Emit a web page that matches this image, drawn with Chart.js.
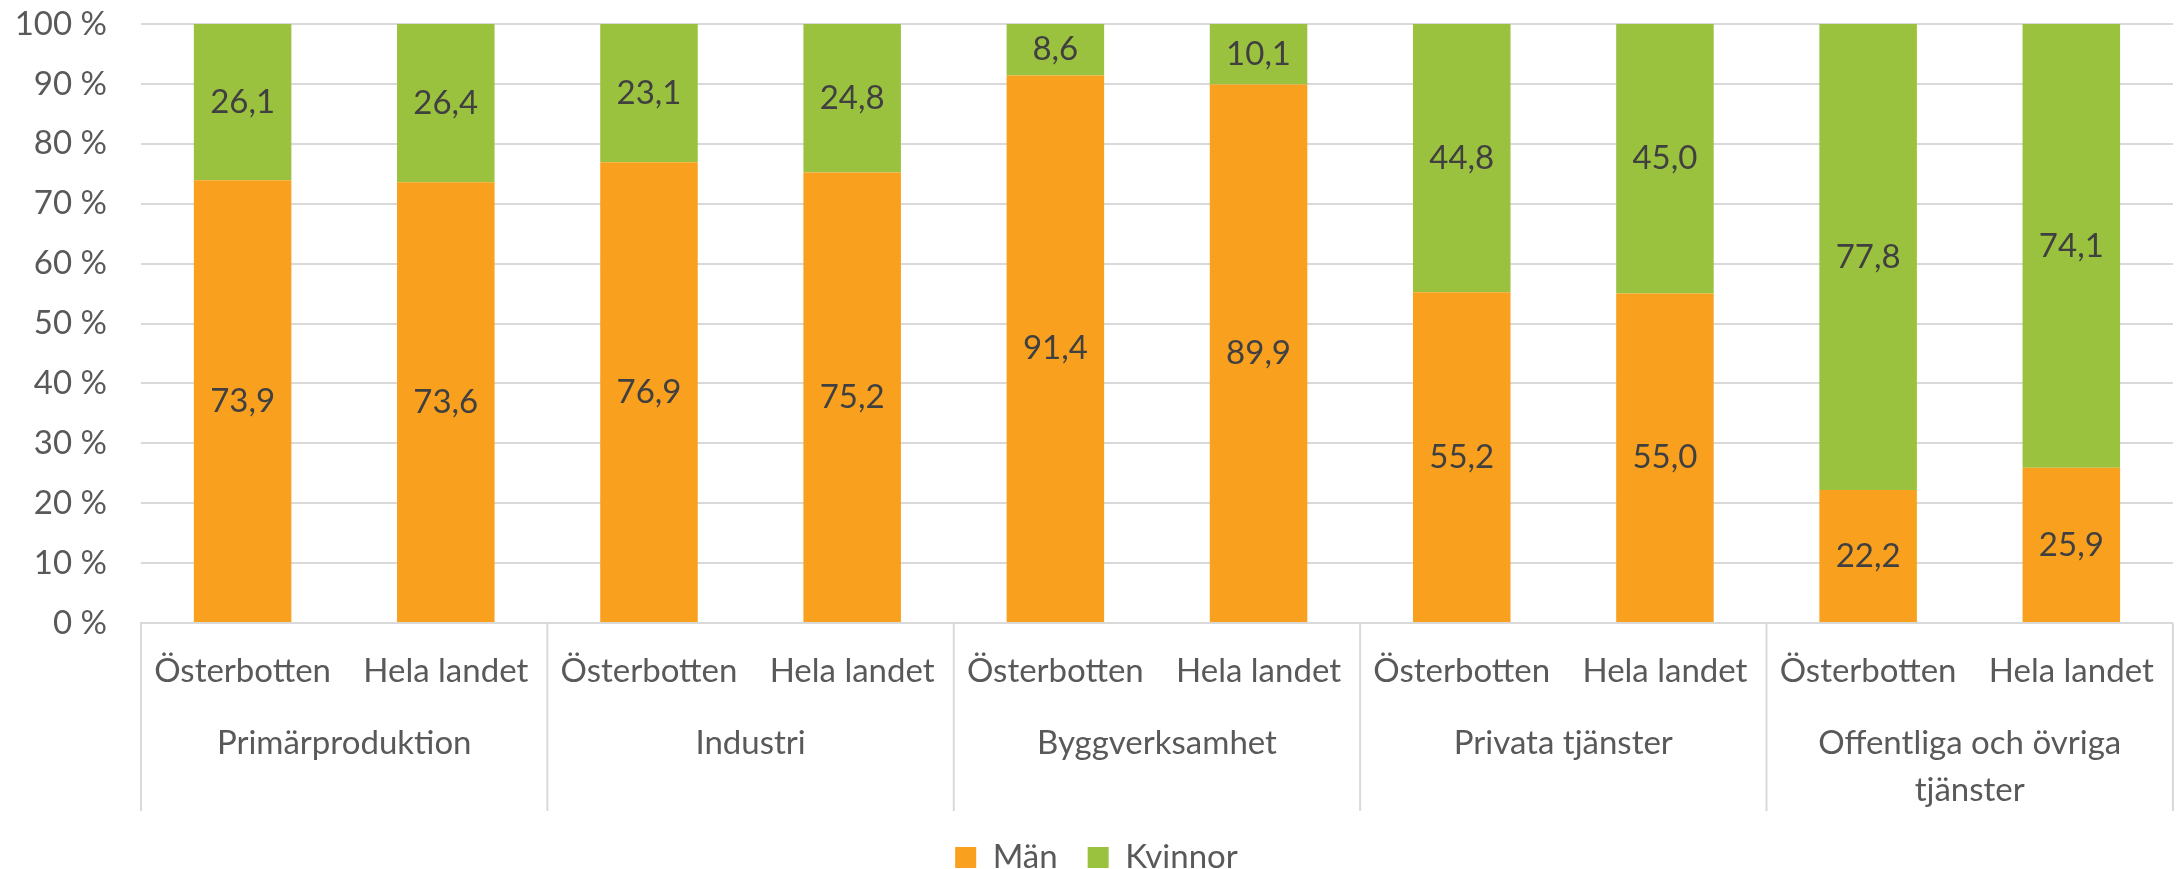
<!DOCTYPE html>
<html>
<head>
<meta charset="utf-8">
<script src="https://cdn.jsdelivr.net/npm/chart.js@4"></script>
<style>
  html, body { margin: 0; padding: 0; background: #fff; }
  #wrap { width: 2183px; height: 869px; }
</style>
</head>
<body>
<div id="wrap"><canvas id="chart"></canvas></div>
<script>
const sectors = ["Primärproduktion", "Industri", "Byggverksamhet", "Privata tjänster", ["Offentliga och övriga", "tjänster"]];
const regions = ["Österbotten", "Hela landet"];
const men = [73.9, 73.6, 76.9, 75.2, 91.4, 89.9, 55.2, 55.0, 22.2, 25.9];
const women = [26.1, 26.4, 23.1, 24.8, 8.6, 10.1, 44.8, 45.0, 77.8, 74.1];
const yTicks = [0, 10, 20, 30, 40, 50, 60, 70, 80, 90, 100];

const FONT = "Lato, 'Noto Sans', sans-serif";
const FONT_SIZE = 33;
const AXIS_COLOR = "#595959";
const GRID = "#d9d9d9";
const X_AXIS_HEIGHT = 188;

const labels = sectors.flatMap(() => regions);

// value labels in the middle of each bar segment
const barLabels = {
  id: "barLabels",
  afterDatasetsDraw(chart) {
    const ctx = chart.ctx;
    ctx.save();
    ctx.font = FONT_SIZE + "px " + FONT;
    ctx.fillStyle = "#404040";
    ctx.textAlign = "center";
    ctx.textBaseline = "middle";
    chart.data.datasets.forEach((ds, di) => {
      chart.getDatasetMeta(di).data.forEach((bar, i) => {
        const p = bar.getCenterPoint();
        ctx.fillText(ds.data[i].toFixed(1).replace(".", ","), p.x, p.y);
      });
    });
    ctx.restore();
  },
};

// second row of category labels + separator lines
const groupAxis = {
  id: "groupAxis",
  afterDraw(chart) {
    const ctx = chart.ctx;
    const x = chart.scales.x;
    const top = chart.chartArea.bottom;
    const n = regions.length;
    ctx.save();
    ctx.strokeStyle = GRID;
    ctx.lineWidth = 2;
    for (let g = 0; g <= sectors.length; g++) {
      let px;
      if (g === 0) px = x.left;
      else if (g === sectors.length) px = x.right;
      else px = (x.getPixelForValue(g * n - 1) + x.getPixelForValue(g * n)) / 2;
      ctx.beginPath();
      ctx.moveTo(px, top);
      ctx.lineTo(px, top + X_AXIS_HEIGHT);
      ctx.stroke();
    }
    ctx.font = FONT_SIZE + "px " + FONT;
    ctx.fillStyle = AXIS_COLOR;
    ctx.textAlign = "center";
    ctx.textBaseline = "middle";
    sectors.forEach((s, g) => {
      const cx = (x.getPixelForValue(g * n) + x.getPixelForValue(g * n + n - 1)) / 2;
      const lines = Array.isArray(s) ? s : [s];
      lines.forEach((line, li) => ctx.fillText(line, cx, top + 120 + li * 47));
    });
    ctx.restore();
  },
};

new Chart(document.getElementById("chart"), {
  type: "bar",
  data: {
    labels: labels,
    datasets: [
      { label: "Män", data: men, backgroundColor: "#F9A11F" },
      { label: "Kvinnor", data: women, backgroundColor: "#9BC23F" },
    ],
  },
  options: {
    responsive: true,
    maintainAspectRatio: false,
    animation: false,
    layout: { padding: { top: 24, left: 14, right: 4, bottom: -15 } },
    datasets: { bar: { categoryPercentage: 1, barPercentage: 0.48 } },
    scales: {
      x: {
        stacked: true,
        grid: { display: false, drawTicks: false },
        border: { display: true, color: GRID, width: 2 },
        ticks: { font: { family: FONT, size: FONT_SIZE }, color: AXIS_COLOR, padding: 29, maxRotation: 0, autoSkip: false },
        afterFit: (scale) => { scale.height = X_AXIS_HEIGHT; },
      },
      y: {
        stacked: true,
        min: 0,
        max: 100,
        afterBuildTicks: (scale) => { scale.ticks = yTicks.map((v) => ({ value: v })); },
        grid: { color: GRID, lineWidth: 2, drawTicks: true, tickLength: 34, tickColor: "rgba(0,0,0,0)" },
        border: { display: false },
        ticks: { font: { family: FONT, size: FONT_SIZE }, color: AXIS_COLOR, padding: 0, callback: (v) => v + " %" },
        afterFit: (scale) => { scale.width = 127; },
      },
    },
    plugins: {
      legend: {
        position: "bottom",
        labels: { font: { family: FONT, size: FONT_SIZE }, color: AXIS_COLOR, boxWidth: 21, boxHeight: 21, padding: 30 },
      },
      tooltip: { enabled: false },
    },
  },
  plugins: [barLabels, groupAxis],
});
</script>
</body>
</html>
